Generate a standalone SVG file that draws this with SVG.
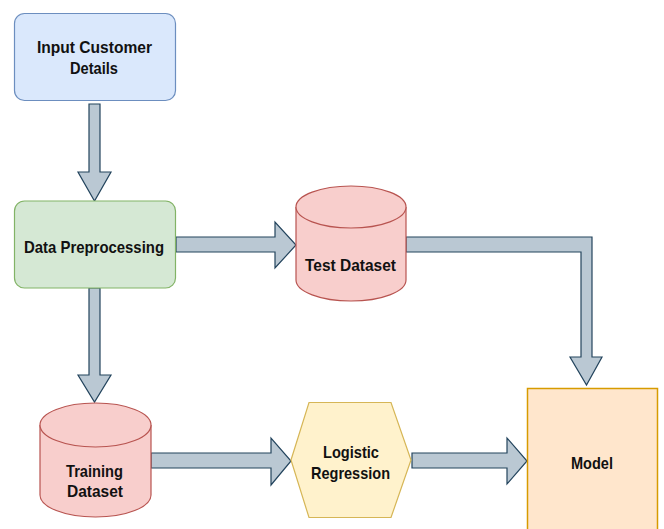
<svg xmlns="http://www.w3.org/2000/svg" width="664" height="529" viewBox="0 0 664 529">
  <style>
    .lbl { font-family: "Liberation Sans", Arial, sans-serif; font-weight: bold; font-size: 17px; fill: #111; text-anchor: middle; }
    .arrow { fill: #bac8d3; stroke: #23445d; stroke-width: 1.2; stroke-linejoin: miter; }
    .blue { fill: #dae8fc; stroke: #6c8ebf; stroke-width: 1.2; }
    .green { fill: #d5e8d4; stroke: #82b366; stroke-width: 1.2; }
    .red { fill: #f8cecc; stroke: #b85450; stroke-width: 1.2; }
    .yellow { fill: #fff2cc; stroke: #d6b656; stroke-width: 1.2; }
    .orange { fill: #ffe6cc; stroke: #d79b00; stroke-width: 1.5; }
  </style>
  <rect width="664" height="529" fill="#ffffff"/>

  <!-- block arrows -->
  <g id="connectors">
    <polygon class="arrow" points="89,104 100,104 100,172 111,172 94.5,201 78,172 89,172"/>
    <polygon class="arrow" points="89,288 100,288 100,375 111,375 94.5,402 78,375 89,375"/>
    <polygon class="arrow" points="176,237 275,237 275,222 296,245 275,268 275,252 176,252"/>
    <polygon class="arrow" points="406,237 592,237 592,357 602,357 586.5,385 570,357 581,357 581,252 406,252"/>
    <polygon class="arrow" points="151,453 271,453 271,438 291,461 271,485 271,468 151,468"/>
    <polygon class="arrow" points="412,453 507,453 507,438 527,461 507,484 507,468 412,468"/>
  </g>

  <g id="input-customer-details">
    <rect class="blue" x="14.5" y="13.5" width="161" height="87" rx="10"/>
    <text class="lbl" x="94.5" y="53" textLength="115" lengthAdjust="spacingAndGlyphs">Input Customer</text>
    <text class="lbl" x="94" y="74" textLength="48" lengthAdjust="spacingAndGlyphs">Details</text>
  </g>

  <g id="data-preprocessing">
    <rect class="green" x="14.5" y="201" width="161" height="87" rx="10"/>
    <text class="lbl" x="94" y="253" textLength="140" lengthAdjust="spacingAndGlyphs">Data Preprocessing</text>
  </g>

  <g id="test-dataset">
    <path class="red" d="M296,207 A55,21 0 0 1 406,207 L406,280 A55,21 0 0 1 296,280 Z"/>
    <path class="red" fill="none" d="M296,207 A55,21 0 0 0 406,207"/>
    <text class="lbl" x="350.5" y="271" textLength="91" lengthAdjust="spacingAndGlyphs">Test Dataset</text>
  </g>

  <g id="training-dataset">
    <path class="red" d="M40,425 A55.5,22 0 0 1 151,425 L151,495 A55.5,22 0 0 1 40,495 Z"/>
    <path class="red" fill="none" d="M40,425 A55.5,22 0 0 0 151,425"/>
    <text class="lbl" x="94.5" y="477" textLength="57" lengthAdjust="spacingAndGlyphs">Training</text>
    <text class="lbl" x="95" y="497" textLength="56" lengthAdjust="spacingAndGlyphs">Dataset</text>
  </g>

  <g id="logistic-regression">
    <polygon class="yellow" points="291,460 309,402.5 391,402.5 411,460 391,517.5 309,517.5"/>
    <text class="lbl" x="351" y="458" textLength="56" lengthAdjust="spacingAndGlyphs">Logistic</text>
    <text class="lbl" x="350.5" y="479" textLength="79" lengthAdjust="spacingAndGlyphs">Regression</text>
  </g>

  <g id="model">
    <rect class="orange" x="527.5" y="388.5" width="130" height="150"/>
    <text class="lbl" x="592" y="469" textLength="42" lengthAdjust="spacingAndGlyphs">Model</text>
  </g>
</svg>
